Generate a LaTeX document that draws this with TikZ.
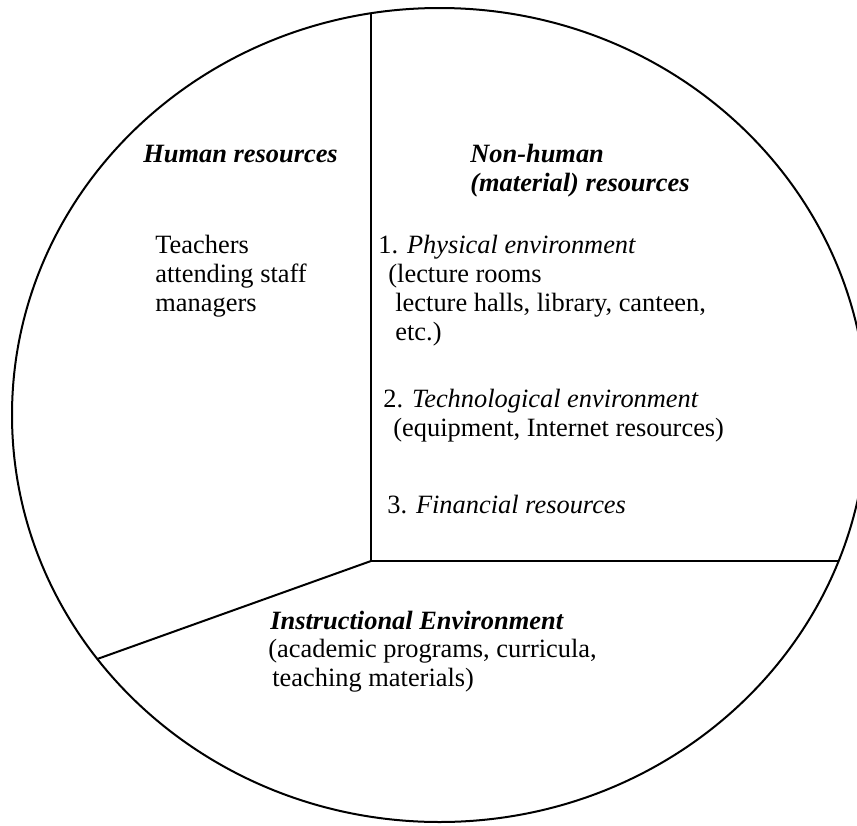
\documentclass[tikz,border=0pt]{standalone}
\usepackage{fontspec}
\setmainfont{Liberation Serif}
\begin{document}
\begin{tikzpicture}[x=0.5pt, y=-0.5pt,
    resLine/.style={line width=1pt},
    resHead/.style={anchor=base west, inner sep=0pt, align=left, font=\fontsize{13.2}{14.5}\selectfont\bfseries\itshape},
    resText/.style={anchor=base west, inner sep=0pt, align=left, font=\fontsize{13.2}{14.5}\selectfont},
]
\useasboundingbox (0,0) rectangle (857,825);
\clip (0,0) rectangle (857,825);
% outer rim of the chart
\draw[resLine] (439.5,415) ellipse [x radius=427.5, y radius=407];
% three sectors meet at the hub
\coordinate (hub) at (371,561);
\coordinate (rimTop) at (371,13.3);
\coordinate (rimEast) at (838.5,561);
\coordinate (rimWest) at (97.3,659);
\draw[resLine] (rimTop) -- (hub) -- (rimEast);
\draw[resLine] (hub) -- (rimWest);
% Human resources (multi-line nodes sit on their last baseline)
\node[resHead] (human) at (143,162) {Human resources};
\node[resText] (staff) at (155,311) {Teachers\\attending staff\\managers};
% Non-human resources
\node[resHead] (nonhuman) at (470,191) {Non-human\\(material) resources};
\node[resText] (physical) at (378,340) {1. \textit{Physical environment}\\\hspace*{5pt}(lecture rooms\\\hspace*{8.5pt}lecture halls, library, canteen,\\\hspace*{8.5pt}etc.)};
\node[resText] (techno) at (383,436) {2. \textit{Technological environment}\\\hspace*{5pt}(equipment, Internet resources)};
\node[resText] (finance) at (387,513) {3. \textit{Financial resources}};
% Instructional environment
\node[resHead] (instruct) at (270,629) {Instructional Environment};
\node[resText] (programs) at (268,686) {(academic programs, curricula,\\\hspace*{2pt}teaching materials)};
\end{tikzpicture}
\end{document}
